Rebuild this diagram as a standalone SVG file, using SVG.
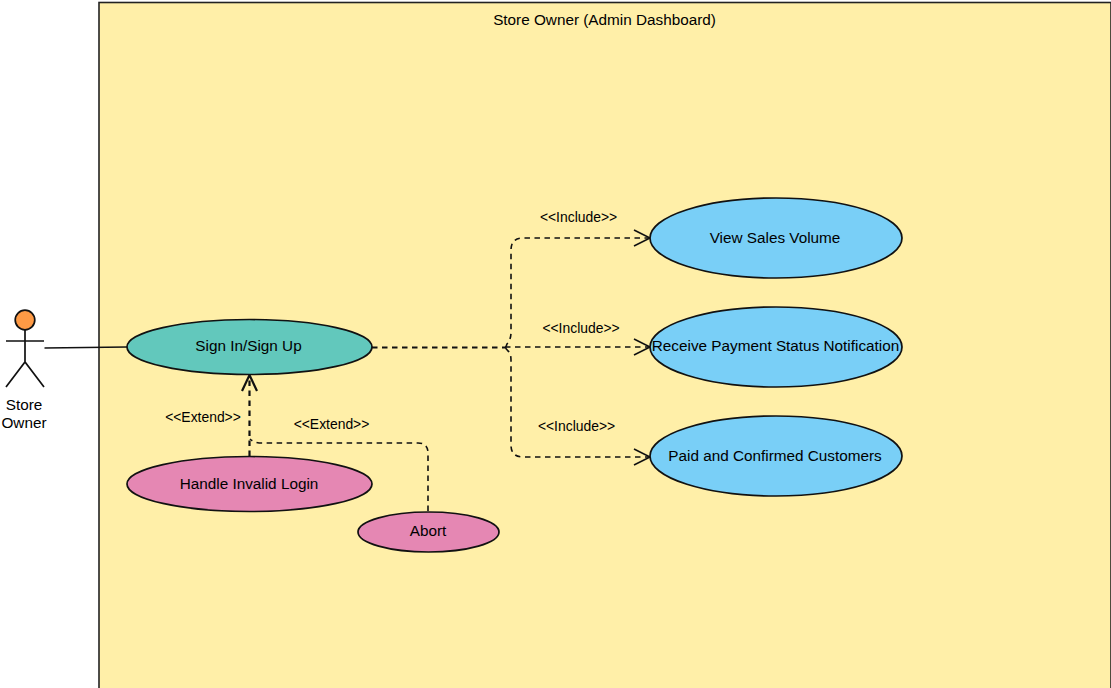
<svg xmlns="http://www.w3.org/2000/svg" width="1111" height="688" viewBox="0 0 1111 688">
<style>
text{font-family:"Liberation Sans",Arial,sans-serif;fill:#000;text-anchor:middle}
.n{font-size:15.3px}
.l{font-size:13.9px}
.s{stroke:#111;stroke-width:1.7}
.c{fill:none;stroke:#111;stroke-width:1.6;stroke-dasharray:5.5 4.5}
.b{stroke-width:2.200}
.h{fill:none;stroke:#111;stroke-width:1.6}
</style>
<rect width="1111" height="688" fill="#fff"/>
<g id="system">
<rect x="99" y="2.500" width="1012" height="690" fill="#ffefa8" stroke="#222" stroke-width="1.600"/>
<text class="n" x="604.500" y="24.500">Store Owner (Admin Dashboard)</text>
</g>
<g id="connectors">
<path d="M44.500 348 L127 347" fill="none" stroke="#111" stroke-width="1.600"/>
<path class="c" d="M505 347 H650"/>
<path class="c b" d="M372 347.500 H505"/>
<path class="c" d="M505.500 348 L507 344 Q511 340 511 332 V250 Q511 238 523 238 H650"/>
<path class="c" d="M505.500 348 L508 351 Q511 353 511 360 V445 Q511 457 523 457 H650"/>
<path class="h" d="M634 230 L650 238 L634 246 M634 339 L650 347 L634 355 M634 449 L650 457 L634 465"/>
<path class="c b" d="M249.500 456 V376"/>
<path class="c" d="M428 511 V453 Q428 443 418 443 H262 Q254 443 250 439"/>
<path d="M242 391 L249.500 375 L257 391" fill="none" stroke="#111" stroke-width="2.200"/>
<text class="l" x="578.500" y="221.500">&lt;&lt;Include&gt;&gt;</text>
<text class="l" x="581" y="332.500">&lt;&lt;Include&gt;&gt;</text>
<text class="l" x="576.500" y="430.500">&lt;&lt;Include&gt;&gt;</text>
<text class="l" x="203" y="421.500">&lt;&lt;Extend&gt;&gt;</text>
<text class="l" x="331.500" y="428.500">&lt;&lt;Extend&gt;&gt;</text>
</g>
<g id="actor">
<circle cx="25" cy="320" r="9.800" fill="#fe9a45" class="s"/>
<path d="M25 330 V362 M6 341 H44 M6 387 L25 362 L44 387" fill="none" class="s"/>
<text class="n" x="24" y="410">Store</text>
<text class="n" x="24" y="428">Owner</text>
</g>
<g id="sign-in">
<ellipse cx="249.500" cy="347" rx="122.500" ry="27.500" fill="#62c8bc" class="s"/>
<text class="n" x="248.500" y="351">Sign In/Sign Up</text>
</g>
<g id="invalid-login">
<ellipse cx="249.500" cy="484" rx="122.500" ry="27.500" fill="#e587b3" class="s"/>
<text class="n" x="249" y="489">Handle Invalid Login</text>
</g>
<g id="abort">
<ellipse cx="428.500" cy="532" rx="70.500" ry="20" fill="#e587b3" class="s"/>
<text class="n" x="428" y="536">Abort</text>
</g>
<g id="sales">
<ellipse cx="776" cy="238" rx="126" ry="40" fill="#79cff7" class="s"/>
<text class="n" x="775" y="243">View Sales Volume</text>
</g>
<g id="payment">
<ellipse cx="776" cy="347" rx="126" ry="40" fill="#79cff7" class="s"/>
<text class="n" x="775.500" y="351">Receive Payment Status Notification</text>
</g>
<g id="customers">
<ellipse cx="776" cy="456" rx="126" ry="40" fill="#79cff7" class="s"/>
<text class="n" x="775" y="461">Paid and Confirmed Customers</text>
</g>
</svg>
